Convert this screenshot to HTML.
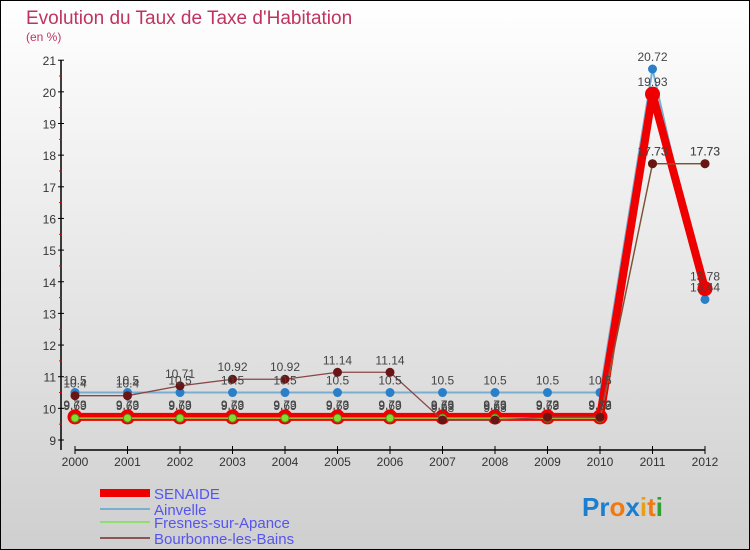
<!DOCTYPE html>
<html><head><meta charset="utf-8">
<style>
html,body{margin:0;padding:0}
body{width:750px;height:550px;overflow:hidden;font-family:"Liberation Sans",sans-serif}
</style></head>
<body>
<svg id="chart" width="750" height="550" xmlns="http://www.w3.org/2000/svg" style="display:block">
<defs>
<linearGradient id="bg" x1="0" y1="0" x2="0" y2="1">
<stop offset="0" stop-color="#ffffff"/><stop offset="1" stop-color="#cfcfcf"/>
</linearGradient>
</defs>
<rect x="0.5" y="0.5" width="749" height="549" fill="url(#bg)" stroke="#000"/>
<text x="26" y="24" font-size="19" fill="#c0335f">Evolution du Taux de Taxe d'Habitation</text>
<text x="26" y="41" font-size="12" fill="#c0335f">(en %)</text>
<g id="axes"></g>
<g id="series"></g>
<g id="labels"></g>
<g>
<rect x="100" y="489" width="50" height="8" fill="#e00"/>
<text x="154" y="499" font-size="15" fill="#5555ee">SENAIDE</text>
<rect x="100" y="508" width="50" height="2" fill="#7aaed0"/>
<text x="154" y="515" font-size="15" fill="#5555ee">Ainvelle</text>
<rect x="100" y="521" width="50" height="2" fill="#90dd70"/>
<text x="154" y="528" font-size="15" fill="#5555ee">Fresnes-sur-Apance</text>
<rect x="100" y="537" width="50" height="2" fill="#8a5555"/>
<text x="154" y="544" font-size="15" fill="#5555ee">Bourbonne-les-Bains</text>
</g>
<g font-size="26" font-weight="bold" font-family="Liberation Sans, sans-serif">
<text x="582" y="516"><tspan fill="#1a7fd0">Pr</tspan><tspan fill="#f07a10">o</tspan><tspan fill="#1a7fd0">x</tspan><tspan fill="#e8a010">i</tspan><tspan fill="#f07a10">t</tspan><tspan fill="#30a030">i</tspan></text>
</g>
</svg>
<script>
const years = [2000,2001,2002,2003,2004,2005,2006,2007,2008,2009,2010,2011,2012];
const senaide = [9.73,9.73,9.73,9.73,9.73,9.73,9.73,9.73,9.73,9.73,9.73,19.93,13.78];
const ainvelle = [10.5,10.5,10.5,10.5,10.5,10.5,10.5,10.5,10.5,10.5,10.5,20.72,13.44];
const fresnes = [9.69,9.69,9.69,9.69,9.69,9.69,9.69,9.69,9.69,9.69,9.69,17.73,17.73];
const bourbonne = [10.4,10.4,10.71,10.92,10.92,11.14,11.14,9.63,9.63,9.72,9.72,17.73,17.73];
const yTicks = [9,10,11,12,13,14,15,16,17,18,19,20,21];

const NS="http://www.w3.org/2000/svg";
const X0=75, XSTEP=52.5, Y9=440, YU=31.65;
const xs=i=>X0+i*XSTEP;
const ys=v=>Y9-(v-9)*YU;
function mk(tag,attrs,parent){const e=document.createElementNS(NS,tag);for(const k in attrs)e.setAttribute(k,attrs[k]);parent.appendChild(e);return e;}
const axes=document.getElementById('axes'), ser=document.getElementById('series'), lab=document.getElementById('labels');

let ya=mk('line',{x1:61,y1:ys(21),x2:61,y2:450,stroke:'#000','stroke-width':1.5},axes);


let xa=mk('line',{x1:75,y1:450,x2:705,y2:450,stroke:'#000','stroke-width':1.5},axes);


yTicks.forEach((t,i)=>{
  mk('line',{x1:58,y1:ys(t),x2:64,y2:ys(t),stroke:'#000'},axes);
  if(i<yTicks.length-1) mk('line',{x1:59,y1:ys(t+0.5),x2:62,y2:ys(t+0.5),stroke:'#e00'},axes);
  const tx=mk('text',{x:56,y:ys(t)+5,'font-size':12,'text-anchor':'end',fill:'#333'},axes);
  tx.textContent=t;
  
  
});
years.forEach((y,i)=>{
  mk('line',{x1:xs(i),y1:446,x2:xs(i),y2:454,stroke:'#000'},axes);
  const tx=mk('text',{x:xs(i),y:466,'font-size':12,'text-anchor':'middle',fill:'#333'},axes);
  tx.textContent=y;
  
  
});

function drawSeries(name,data,color,width,r,dotFill,dotStroke){
  const pts=data.map((v,i)=>xs(i)+','+ys(v)).join(' ');
  const pl=mk('polyline',{points:pts,fill:'none',stroke:color,'stroke-width':width,'stroke-linejoin':'round'},ser);
  
  
  data.forEach((v,i)=>{
    const c=mk('circle',{cx:xs(i),cy:ys(v),r:r,fill:dotFill,stroke:dotStroke,'stroke-width':1},ser);
    
    
    const t=mk('text',{x:xs(i),y:ys(v)-8,'font-size':12,'text-anchor':'middle',fill:'#444'},lab);
    t.textContent=v;
    
    
  });
}
drawSeries('ainvelle',ainvelle,'#7aaed0',2,4,'#2a80c8','#2a80c8');
drawSeries('senaide',senaide,'#ee0000',8,7,'#ee0000','#ee0000');
drawSeries('fresnes',fresnes,'#90cc40',1.5,4,'#80e030','#509020');
drawSeries('bourbonne',bourbonne,'#8a4545',1.3,4,'#6a1515','#6a1515');
</script>
</body></html>
